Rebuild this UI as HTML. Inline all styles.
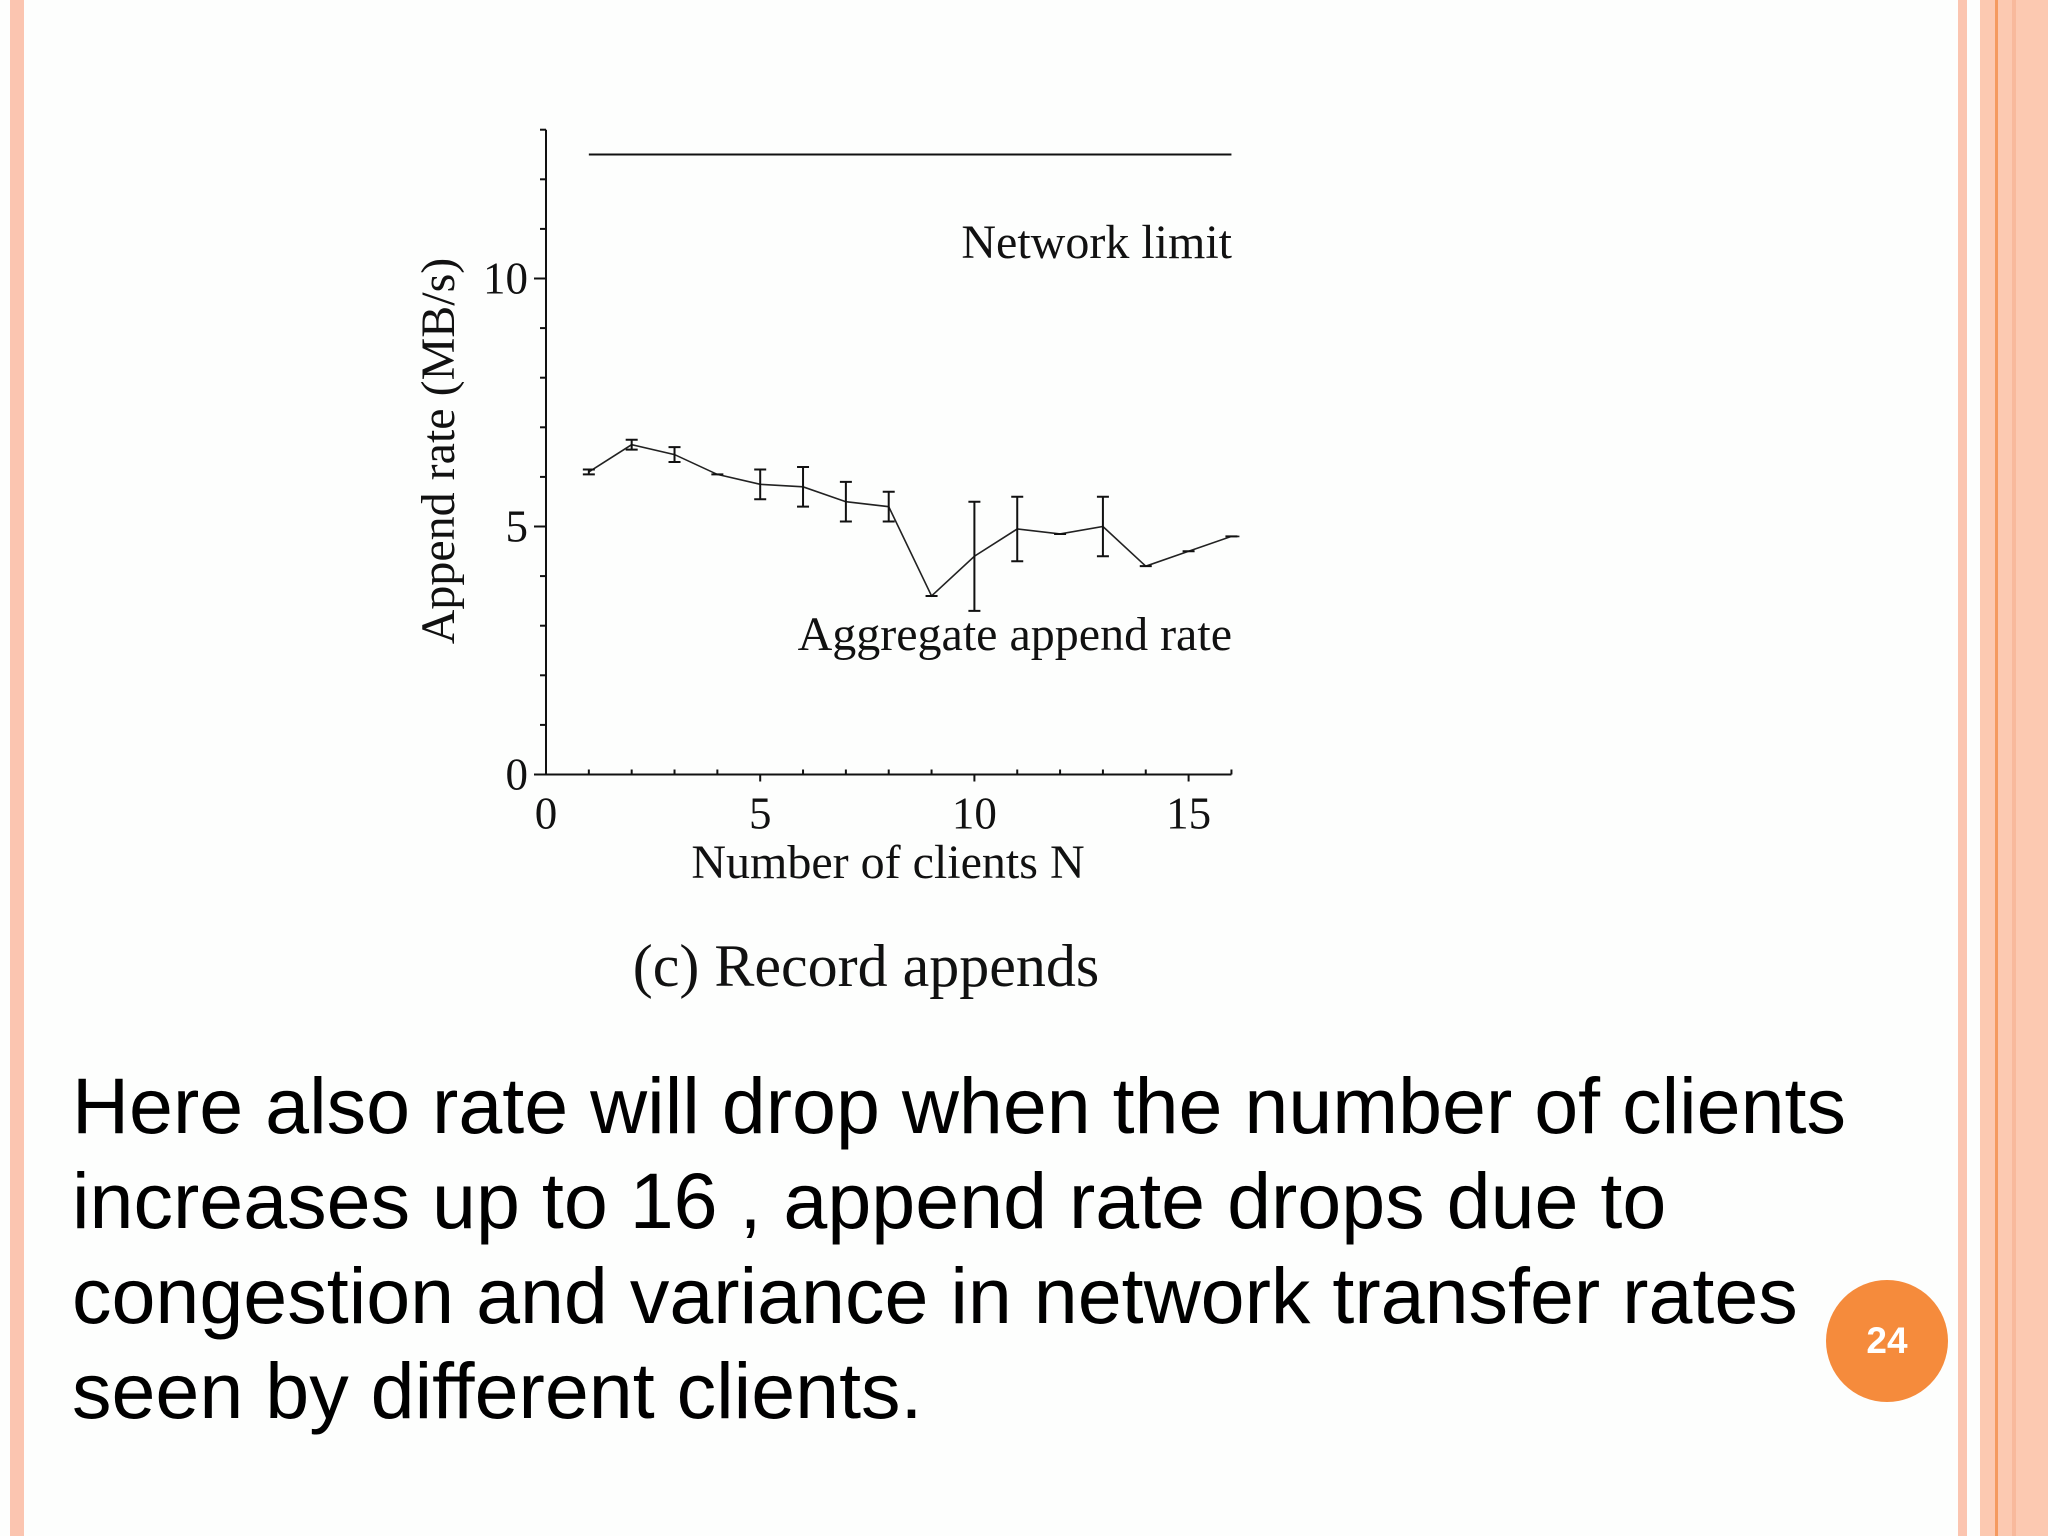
<!DOCTYPE html>
<html><head><meta charset="utf-8"><style>
body{margin:0;width:2048px;height:1536px;background:#fdfefd;position:relative;overflow:hidden;font-family:"Liberation Sans",sans-serif}
.s{position:absolute;top:0;height:1536px}
#body-text{position:absolute;left:72px;top:1058px;font-size:79px;line-height:95px;color:#000;margin:0;white-space:nowrap}
#pnum{position:absolute;left:1826px;top:1280px;width:122px;height:122px;border-radius:50%;background:#f58b3c;color:#fff;font-weight:bold;font-size:37px;text-align:center;line-height:122px}
svg text{font-family:"Liberation Serif",serif;fill:#111}
</style></head><body>
<div class="s" style="left:10px;width:14px;background:#fbc5b0"></div>
<div class="s" style="left:1958px;width:9px;background:#fbc5b0"></div>
<div class="s" style="left:1980px;width:68px;background:#fcc9b1"></div>
<div class="s" style="left:1995px;width:3px;background:#f59a5f"></div>
<div class="s" style="left:2012px;width:4px;background:#f8b99c"></div>

<svg id="chart" width="2048" height="1536" style="position:absolute;left:0;top:0">
<g id="g"></g>
<text transform="translate(454,451) rotate(-90)" text-anchor="middle" font-size="48">Append rate (MB/s)</text>
<text x="888" y="878" text-anchor="middle" font-size="48">Number of clients N</text>
<text x="1232" y="258" text-anchor="end" font-size="48">Network limit</text>
<text x="1232" y="650" text-anchor="end" font-size="48">Aggregate append rate</text>
<text x="866" y="986" text-anchor="middle" font-size="60">(c) Record appends</text>
</svg>

<p id="body-text">Here also rate will drop when the number of clients<br>increases up to 16 , append rate drops due to<br>congestion and variance in network transfer rates<br>seen by different clients.</p>
<div id="pnum">24</div>

<script>
const clients=[1,2,3,4,5,6,7,8,9,10,11,12,13,14,15,16];
const rates=[6.1,6.65,6.45,6.05,5.85,5.8,5.5,5.4,3.6,4.4,4.95,4.85,5.0,4.2,4.5,4.8];
const errs=[0.05,0.1,0.15,0,0.3,0.4,0.4,0.3,0,1.1,0.65,0,0.6,0,0,0];
const networkLimit=12.5;
const xTicks=[0,5,10,15];
const yTicks=[0,5,10];
const X=v=>546+v*42.84, Y=v=>774.5-v*49.6;
const g=document.getElementById('g'),NS='http://www.w3.org/2000/svg';
function mk(t,a){const e=document.createElementNS(NS,t);for(const k in a)e.setAttribute(k,a[k]);g.appendChild(e);return e;}
let e;
e=mk('line',{x1:X(0),y1:Y(0),x2:X(16),y2:Y(0),stroke:'#111','stroke-width':2});

e=mk('line',{x1:X(0),y1:Y(0),x2:X(0),y2:Y(13),stroke:'#111','stroke-width':2});

for(let i=1;i<=16;i++){e=mk('line',{x1:X(i),y1:Y(0),x2:X(i),y2:Y(0)-(i%5?5:0)+(i%5?0:7),stroke:'#111','stroke-width':2});}
for(let i=1;i<=13;i++){e=mk('line',{x1:X(0),y1:Y(i),x2:X(0)-(i%5?6:12),y2:Y(i),stroke:'#111','stroke-width':2});}
e=mk('line',{x1:X(0)-12,y1:Y(0),x2:X(0),y2:Y(0),stroke:'#111','stroke-width':2});
xTicks.forEach(v=>{e=mk('text',{x:X(v),y:Y(0)+54,'text-anchor':'middle','font-size':45});e.textContent=v;});
yTicks.forEach(v=>{e=mk('text',{x:X(0)-18,y:Y(v)+15,'text-anchor':'end','font-size':45});e.textContent=v;});
e=mk('line',{x1:X(1),y1:Y(networkLimit),x2:X(16),y2:Y(networkLimit),stroke:'#111','stroke-width':2});

e=mk('polyline',{points:clients.map((c,i)=>X(c)+','+Y(rates[i])).join(' ')+' '+(X(16)+8)+','+Y(rates[15]),fill:'none',stroke:'#222','stroke-width':1.6});

clients.forEach((c,i)=>{const x=X(c),a=Y(rates[i]+errs[i]),b=Y(rates[i]-errs[i]);
 e=mk('path',{d:`M${x},${a}V${b}M${x-6},${a}H${x+6}M${x-6},${b}H${x+6}`,stroke:'#111','stroke-width':2,fill:'none'});
 });
</script>
</body></html>
